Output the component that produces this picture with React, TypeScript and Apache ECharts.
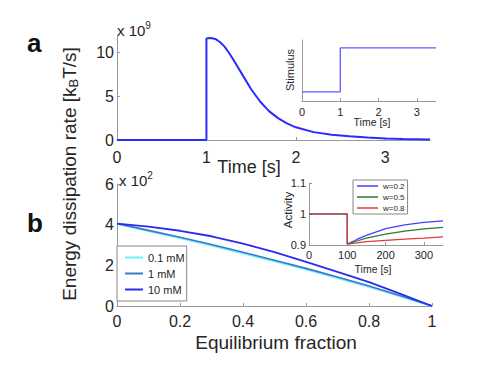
import React, { useEffect, useRef } from "react";
import * as echarts from "echarts";

// Panel a: energy dissipation rate (x 1e9 kBT/s) vs time [s]
const aTime = [0, 1, 1, 1.05, 1.1, 1.15, 1.2, 1.25, 1.3, 1.4, 1.5, 1.6, 1.7, 1.8, 1.9, 2.0, 2.2, 2.4, 2.6, 2.8, 3.0, 3.2, 3.5];
const aRate = [0, 0, 11.6, 11.65, 11.55, 11.2, 10.7, 10.0, 9.2, 7.5, 5.8, 4.4, 3.3, 2.5, 1.9, 1.45, 0.9, 0.6, 0.42, 0.28, 0.18, 0.12, 0.06];

// Inset a: stimulus step
const stimTime = [0, 1, 1, 3.5];
const stimValue = [0.15, 0.15, 0.87, 0.87];

// Panel b: energy dissipation rate (x 1e2) vs equilibrium fraction
const eqFrac = [0, 0.1, 0.2, 0.3, 0.4, 0.5, 0.6, 0.7, 0.8, 0.9, 1];
const rate01mM = [4.05, 3.69, 3.34, 2.97, 2.59, 2.2, 1.8, 1.38, 0.94, 0.48, 0];
const rate1mM = [4.05, 3.72, 3.38, 3.02, 2.64, 2.25, 1.85, 1.43, 0.98, 0.5, 0];
const rate10mM = [4.05, 3.9, 3.7, 3.43, 3.07, 2.65, 2.17, 1.68, 1.17, 0.6, 0];
const concNames = ["0.1 mM", "1 mM", "10 mM"];

// Inset b: activity vs time [s]
const actTime = [0, 100, 100, 125, 150, 200, 250, 300, 350];
const actW02 = [1, 1, 0.903, 0.918, 0.931, 0.953, 0.965, 0.973, 0.978];
const actW05 = [1, 1, 0.903, 0.913, 0.922, 0.935, 0.945, 0.952, 0.957];
const actW08 = [1, 1, 0.903, 0.907, 0.911, 0.915, 0.919, 0.922, 0.926];
const wNames = ["w=0.2", "w=0.5", "w=0.8"];

const FONT = "Liberation Sans, Arial, Helvetica, sans-serif";
const TXT = "#262626";
const AX = "#9a9a9a";

const pairs = (xs: number[], ys: number[]) => xs.map((x, i) => [x, ys[i]]);

function axis(gridIndex: number, fontSize: number, extra: any) {
  return {
    type: "value",
    gridIndex,
    axisLine: { show: true, onZero: false, lineStyle: { color: AX, width: 1 } },
    axisTick: { show: true, inside: true, length: 3, lineStyle: { color: AX } },
    axisLabel: { color: TXT, fontSize, fontFamily: FONT },
    splitLine: { show: false },
    ...extra,
    axisLabel: { color: TXT, fontSize, fontFamily: FONT, ...(extra.axisLabel || {}) },
    axisTick: { show: true, inside: true, length: 3, lineStyle: { color: AX }, ...(extra.axisTick || {}) },
  };
}

export default function App() {
  const ref = useRef<HTMLDivElement>(null);
  useEffect(() => {
    if (!ref.current) return;
    const chart = echarts.init(ref.current, null, { renderer: "svg" });
    const option: any = {
      animation: false,
      backgroundColor: "#fff",
      grid: [
        { left: 117, top: 35, width: 313, height: 105 },
        { left: 302, top: 40, width: 134, height: 61 },
        { left: 117, top: 184, width: 315, height: 122 },
        { left: 309, top: 183, width: 134, height: 62 },
      ],
      xAxis: [
        axis(0, 16, { min: 0, max: 3.5, interval: 1, axisLabel: { margin: 9, customValues: [0, 1, 2, 3] }, axisTick: { customValues: [0, 1, 2, 3] } }),
        axis(1, 11, { min: 0, max: 3.5, interval: 1, axisLabel: { margin: 5, customValues: [0, 1, 2, 3] }, axisTick: { customValues: [0, 1, 2, 3] } }),
        axis(2, 16, { min: 0, max: 1, interval: 0.2, axisLabel: { margin: 7 } }),
        axis(3, 11, { min: 0, max: 350, interval: 100, axisLabel: { margin: 4, customValues: [0, 100, 200, 300] }, axisTick: { customValues: [0, 100, 200, 300] } }),
      ],
      yAxis: [
        axis(0, 16, { min: 0, max: 12, interval: 5, axisLabel: { margin: 3, customValues: [0, 5, 10] }, axisTick: { customValues: [0, 5, 10] } }),
        axis(1, 11, { min: 0, max: 1, axisLabel: { show: false }, axisTick: { show: false } }),
        axis(2, 16, { min: 0, max: 6, interval: 2, axisLabel: { margin: 3 } }),
        axis(3, 11, { min: 0.9, max: 1.1, interval: 0.1, axisLabel: { margin: 3, customValues: [0.9, 1, 1.1] }, axisTick: { customValues: [0.9, 1, 1.1] } }),
      ],
      legend: [
        {
          data: concNames,
          orient: "vertical",
          left: 117,
          top: 246,
          icon: "rect",
          itemWidth: 18,
          itemHeight: 2,
          itemGap: 5,
          itemTextGap: 14,
          padding: [6, 2, 6, 8],
          borderColor: "#888",
          borderWidth: 1,
          backgroundColor: "#fff",
          textStyle: { fontSize: 11, color: TXT, fontFamily: FONT },
        },
        {
          data: wNames,
          orient: "vertical",
          left: 353,
          top: 180,
          icon: "rect",
          itemWidth: 21,
          itemHeight: 1.5,
          itemGap: 3,
          itemTextGap: 3,
          padding: [2, 3, 2, 4],
          borderColor: "#888",
          borderWidth: 1,
          backgroundColor: "#fff",
          textStyle: { fontSize: 8, color: TXT, fontFamily: FONT },
        },
      ],
      series: [
        { type: "line", name: "rate", xAxisIndex: 0, yAxisIndex: 0, data: pairs(aTime, aRate), showSymbol: false, color: "#2b2bff", lineStyle: { width: 2 } },
        { type: "line", name: "stimulus", xAxisIndex: 1, yAxisIndex: 1, data: pairs(stimTime, stimValue), showSymbol: false, color: "#5c5cff", lineStyle: { width: 1.3 } },
        { type: "line", name: concNames[0], xAxisIndex: 2, yAxisIndex: 2, data: pairs(eqFrac, rate01mM), showSymbol: false, color: "#6cf0ff", lineStyle: { width: 2 } },
        { type: "line", name: concNames[1], xAxisIndex: 2, yAxisIndex: 2, data: pairs(eqFrac, rate1mM), showSymbol: false, color: "#3c78c8", lineStyle: { width: 1.6 } },
        { type: "line", name: concNames[2], xAxisIndex: 2, yAxisIndex: 2, data: pairs(eqFrac, rate10mM), showSymbol: false, color: "#2b2bf0", lineStyle: { width: 1.8 } },
        { type: "line", name: wNames[0], xAxisIndex: 3, yAxisIndex: 3, data: pairs(actTime, actW02), showSymbol: false, color: "#4040ff", lineStyle: { width: 1.2 } },
        { type: "line", name: wNames[1], xAxisIndex: 3, yAxisIndex: 3, data: pairs(actTime, actW05), showSymbol: false, color: "#2e7a2e", lineStyle: { width: 1.2 } },
        { type: "line", name: wNames[2], xAxisIndex: 3, yAxisIndex: 3, data: pairs(actTime, actW08), showSymbol: false, color: "#e23a3a", lineStyle: { width: 1.2 } },
      ],
      graphic: [
        { type: "text", left: 27, top: 30, style: { text: "a", font: `bold 26px ${FONT}`, fill: "#111" } },
        { type: "text", left: 27, top: 210, style: { text: "b", font: `bold 26px ${FONT}`, fill: "#111" } },
        {
          type: "text",
          x: 69,
          y: 174,
          rotation: Math.PI / 2,
          style: {
            text: "Energy dissipation rate [k{sub|B}T/s]",
            fontSize: 19,
            fontFamily: FONT,
            fill: TXT,
            align: "center",
            verticalAlign: "middle",
            rich: { sub: { fontSize: 13, fontFamily: FONT, fill: TXT, padding: [8, 0, 0, 0] } },
          },
        },
        {
          type: "text",
          x: 117,
          y: 20,
          style: { text: "x 10{sup|9}", fontSize: 15, fontFamily: FONT, fill: TXT, rich: { sup: { fontSize: 10, fontFamily: FONT, fill: TXT, padding: [0, 0, 10, 0] } } },
        },
        {
          type: "text",
          x: 119,
          y: 170,
          style: { text: "x 10{sup|2}", fontSize: 15, fontFamily: FONT, fill: TXT, rich: { sup: { fontSize: 10, fontFamily: FONT, fill: TXT, padding: [0, 0, 10, 0] } } },
        },
        { type: "text", x: 249, y: 167, style: { text: "Time [s]", fontSize: 18, fontFamily: FONT, fill: TXT, align: "center", verticalAlign: "middle" } },
        { type: "text", x: 276, y: 342, style: { text: "Equilibrium fraction", fontSize: 19, fontFamily: FONT, fill: TXT, align: "center", verticalAlign: "middle" } },
        { type: "text", x: 372, y: 122, style: { text: "Time [s]", fontSize: 10.5, fontFamily: FONT, fill: TXT, align: "center", verticalAlign: "middle" } },
        { type: "text", x: 290, y: 70, rotation: Math.PI / 2, style: { text: "Stimulus", fontSize: 11, fontFamily: FONT, fill: TXT, align: "center", verticalAlign: "middle" } },
        { type: "text", x: 373, y: 269, style: { text: "Time [s]", fontSize: 10.5, fontFamily: FONT, fill: TXT, align: "center", verticalAlign: "middle" } },
        { type: "text", x: 288, y: 210, rotation: Math.PI / 2, style: { text: "Activity", fontSize: 11.5, fontFamily: FONT, fill: TXT, align: "center", verticalAlign: "middle" } },
      ],
    };
    chart.setOption(option);
    return () => chart.dispose();
  }, []);
  return <div ref={ref} style={{ position: "fixed", left: 0, top: 0, width: 487, height: 369 }} />;
}
